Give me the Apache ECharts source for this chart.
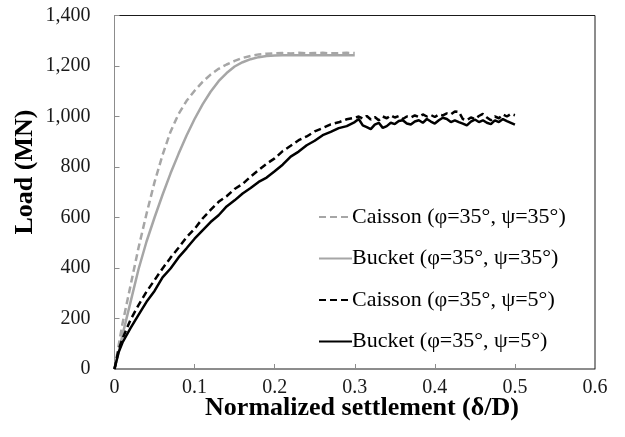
<!DOCTYPE html>
<html>
<head>
<meta charset="utf-8">
<script src="https://cdn.jsdelivr.net/npm/echarts@6/dist/echarts.min.js"></script>
<style>
  html, body { margin: 0; padding: 0; background: #fff; }
  #chart { width: 625px; height: 437px; }
</style>
</head>
<body>
<div id="chart"></div>
<script>
// Normalized settlement (δ/D) for the ψ=35° runs
const settlementDense = [0, 0.005, 0.01, 0.02, 0.03, 0.04, 0.05, 0.06, 0.07, 0.08, 0.09, 0.10,
  0.11, 0.12, 0.13, 0.14, 0.15, 0.16, 0.17, 0.18, 0.19, 0.20, 0.21, 0.22, 0.23, 0.24, 0.25,
  0.26, 0.27, 0.28, 0.29, 0.30];
// Load (MN)
const caisson35 = [0, 90, 180, 330, 480, 615, 740, 848, 940, 1010, 1062, 1102,
  1137, 1166, 1189, 1206, 1220, 1232, 1240, 1246, 1249, 1250, 1251, 1250, 1252, 1250, 1251,
  1252, 1250, 1251, 1252, 1251];
const bucket35 = [0, 65, 135, 265, 395, 505, 600, 690, 775, 852, 925, 990,
  1048, 1098, 1140, 1172, 1198, 1215, 1227, 1235, 1240, 1242, 1243, 1243, 1243, 1243, 1243,
  1243, 1243, 1243, 1243, 1243];

// Normalized settlement (δ/D) for the ψ=5° runs
const settlementLong = [0, 0.005, 0.01, 0.02, 0.03, 0.04, 0.05, 0.06, 0.07, 0.08, 0.09, 0.10,
  0.11, 0.12, 0.13, 0.14, 0.15, 0.16, 0.17, 0.18, 0.19, 0.20, 0.21, 0.22, 0.23, 0.24, 0.25,
  0.26, 0.27, 0.28, 0.29,
  0.300, 0.305, 0.310, 0.315, 0.320, 0.325, 0.330, 0.335, 0.340, 0.345, 0.350, 0.355,
  0.360, 0.365, 0.370, 0.375, 0.380, 0.385, 0.390, 0.395, 0.400, 0.405, 0.410, 0.415,
  0.420, 0.425, 0.430, 0.435, 0.440, 0.445, 0.450, 0.455, 0.460, 0.465, 0.470, 0.475,
  0.480, 0.485, 0.490, 0.495, 0.500];
const caisson5 = [0, 75, 120, 195, 253, 306, 352, 398, 441, 480, 522, 555,
  596, 630, 662, 684, 713, 733, 762, 788, 813, 834, 863, 884, 906, 921, 941,
  954, 969, 977, 989,
  995, 1000, 992, 1002, 988, 998, 985, 1000, 993, 1005, 996, 1002,
  990, 1000, 996, 1004, 998, 1008, 1000, 1006, 998, 1008, 1004, 1012,
  1008, 1020, 1018, 990, 985, 996, 990, 1002, 1010, 996, 985, 1000,
  993, 1008, 1000, 1010, 1005];
const bucket5 = [0, 65, 105, 162, 214, 266, 309, 363, 398, 442, 478, 516,
  549, 582, 609, 644, 668, 695, 717, 741, 758, 783, 809, 841, 861, 886, 904,
  926, 939, 954, 962,
  978, 990, 965, 958, 950, 968, 975, 955, 962, 975, 970, 982,
  985, 972, 968, 980, 985, 975, 990, 980, 972, 985, 995, 990,
  978, 985, 978, 972, 965, 980, 988, 978, 985, 975, 970, 985,
  978, 990, 982, 975, 968];

const seriesNames = [
  'Caisson (\u03c6=35\u00b0, \u03c8=35\u00b0)',
  'Bucket (\u03c6=35\u00b0, \u03c8=35\u00b0)',
  'Caisson (\u03c6=35\u00b0, \u03c8=5\u00b0)',
  'Bucket (\u03c6=35\u00b0, \u03c8=5\u00b0)'
];

const xTicks = [0, 0.1, 0.2, 0.3, 0.4, 0.5, 0.6];
const yTicks = [0, 200, 400, 600, 800, 1000, 1200, 1400];

function zip(xs, ys) { return xs.map((x, i) => [x, ys[i]]); }

const GRAY = '#a6a6a6';
const FONT = '"Liberation Serif", "Times New Roman", serif';

const chart = echarts.init(document.getElementById('chart'), null, { renderer: 'canvas' });

function lineSeries(name, data, color, dashed) {
  return {
    name: name,
    type: 'line',
    data: data,
    symbol: 'none',
    showSymbol: false,
    animation: false,
    lineStyle: { color: color, width: 2.5, type: dashed ? [7, 4] : 'solid' },
    itemStyle: { color: color }
  };
}

chart.setOption({
  animation: false,
  backgroundColor: '#fff',
  grid: {
    left: 114.5, right: 30, top: 15.5, bottom: 68,
    show: true, borderColor: '#1a1a1a', borderWidth: 1, backgroundColor: 'transparent'
  },
  xAxis: {
    type: 'value',
    min: xTicks[0], max: xTicks[xTicks.length - 1], interval: 0.1,
    axisLine: { show: true, lineStyle: { color: '#8c8c8c', width: 1 } },
    axisTick: { show: true, inside: true, length: 5, lineStyle: { color: '#8c8c8c' } },
    splitLine: { show: false },
    axisLabel: {
      margin: 9, color: '#1a1a1a', fontSize: 20, fontFamily: FONT,
      formatter: v => String(+v.toFixed(1))
    }
  },
  yAxis: {
    type: 'value',
    min: yTicks[0], max: yTicks[yTicks.length - 1], interval: 200,
    axisLine: { show: true, lineStyle: { color: '#8c8c8c', width: 1 } },
    axisTick: { show: true, inside: true, length: 5, lineStyle: { color: '#8c8c8c' } },
    splitLine: { show: false },
    axisLabel: {
      margin: 24, color: '#1a1a1a', fontSize: 20, fontFamily: FONT,
      formatter: v => v.toLocaleString('en-US')
    }
  },
  legend: {
    orient: 'vertical',
    left: 313, top: 201,
    itemWidth: 33, itemHeight: 14, itemGap: 19.5,
    itemStyle: { opacity: 0 },
    textStyle: { fontSize: 22, fontFamily: FONT, color: '#000', padding: [0, 0, 0, -5] },
    data: seriesNames
  },
  graphic: [
    {
      type: 'text', x: 362, y: 408,
      style: {
        text: 'Normalized settlement (\u03b4/D)',
        font: 'bold 26px ' + FONT, fill: '#000',
        align: 'center', verticalAlign: 'middle'
      }
    },
    {
      type: 'text',
      x: 25, y: 172, rotation: Math.PI / 2,
      style: {
        text: 'Load (MN)',
        font: 'bold 26px ' + FONT, fill: '#000',
        align: 'center', verticalAlign: 'middle'
      }
    }
  ],
  series: [
    lineSeries(seriesNames[0], zip(settlementDense, caisson35), GRAY, true),
    lineSeries(seriesNames[1], zip(settlementDense, bucket35), GRAY, false),
    lineSeries(seriesNames[2], zip(settlementLong, caisson5), '#000', true),
    lineSeries(seriesNames[3], zip(settlementLong, bucket5), '#000', false)
  ]
});
</script>
</body>
</html>
